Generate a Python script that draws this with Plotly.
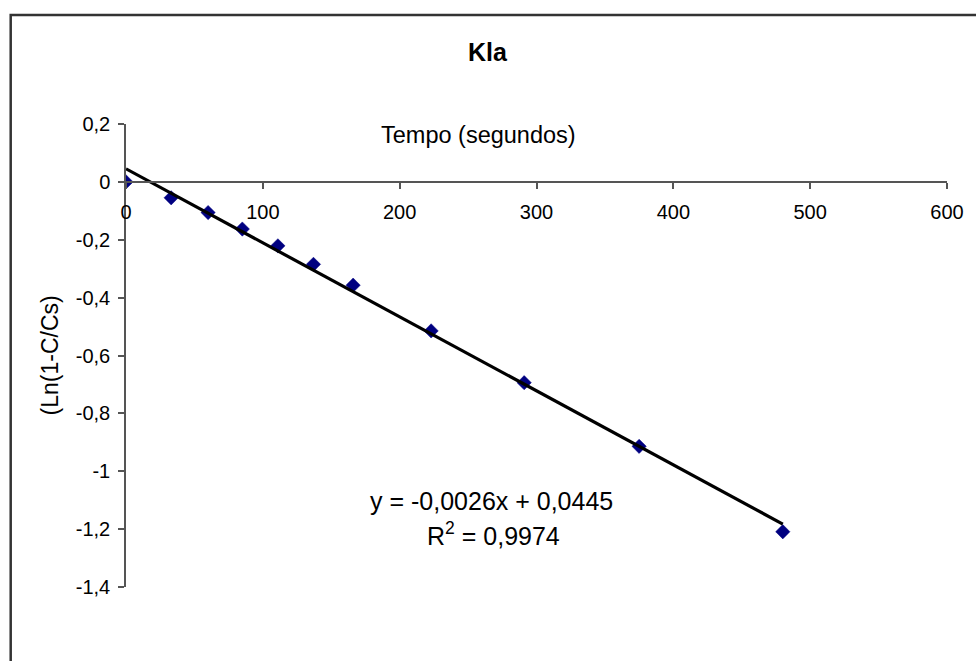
import numpy as np
import plotly.graph_objects as go

# Data
tempo = [0, 33, 60, 85, 111, 137, 166, 223, 291, 375, 480]
ln_vals = [0.0, -0.055, -0.106, -0.163, -0.221, -0.285, -0.357, -0.515, -0.694, -0.914, -1.209]
x_ticks = [0, 100, 200, 300, 400, 500, 600]
x_tick_labels = ["0", "100", "200", "300", "400", "500", "600"]
y_ticks = [0.2, 0, -0.2, -0.4, -0.6, -0.8, -1.0, -1.2, -1.4]
y_tick_labels = ["0,2", "0", "-0,2", "-0,4", "-0,6", "-0,8", "-1", "-1,2", "-1,4"]
title_text = "<b>Kla</b>"
x_title = "Tempo (segundos)"
y_title = "(Ln(1-C/Cs)"
eq_text = "y = -0,0026x + 0,0445"
r2_text = "R<sup>2</sup> = 0,9974"

# Linear trendline fitted from the data
slope, intercept = np.polyfit(tempo, ln_vals, 1)
trend_x = [min(tempo), max(tempo)]
trend_y = [slope * v + intercept for v in trend_x]

W, H = 976, 661
ml, mr, mt, mb = 126, 24, 124, 74
pw, ph = W - ml - mr, H - mt - mb

def px2x(px):
    return (px - ml) / pw

def py2y(py):
    return 1 - (py - mt) / ph

FONT = "Liberation Sans, Arial, sans-serif"

fig = go.Figure()
fig.add_trace(go.Scatter(
    x=tempo, y=ln_vals, mode="markers",
    marker=dict(symbol="diamond", size=11, color="#000080",
                line=dict(width=0.5, color="#000080")),
    showlegend=False, hoverinfo="x+y"))
fig.add_trace(go.Scatter(
    x=trend_x, y=trend_y, mode="lines",
    line=dict(color="black", width=3.2),
    showlegend=False, hoverinfo="skip"))

fig.update_layout(
    width=W, height=H,
    margin=dict(l=ml, r=mr, t=mt, b=mb, pad=0),
    paper_bgcolor="white", plot_bgcolor="white",
    font=dict(family=FONT, color="black", size=20),
    xaxis=dict(
        range=[0, 600], tickvals=x_ticks, ticktext=x_tick_labels,
        showgrid=False, zeroline=False, showline=True, linecolor="#555",
        linewidth=1.5, ticks="outside", ticklen=6, tickcolor="#555",
        tickwidth=1.5, anchor="free", position=1.4 / 1.6, side="bottom",
        tickfont=dict(size=20), ticklabelstandoff=6),
    yaxis=dict(
        range=[-1.4, 0.2], tickvals=y_ticks, ticktext=y_tick_labels,
        showgrid=False, zeroline=False, showline=True, linecolor="#555",
        linewidth=1.5, ticks="outside", ticklen=6, tickcolor="#555",
        tickwidth=1.5, tickfont=dict(size=20), ticklabelstandoff=4),
    shapes=[dict(type="rect", xref="paper", yref="paper",
                 x0=px2x(10), y0=py2y(H + 20), x1=px2x(W + 20), y1=py2y(15),
                 line=dict(color="#333", width=2.5), fillcolor="rgba(0,0,0,0)",
                 layer="above")],
    annotations=[
        dict(text=title_text, x=px2x(490), y=py2y(52), xref="paper", yref="paper",
             showarrow=False, font=dict(size=25), xanchor="center", yanchor="middle"),
        dict(text=x_title, x=px2x(481), y=py2y(135), xref="paper", yref="paper",
             showarrow=False, font=dict(size=23.5), xanchor="center", yanchor="middle"),
        dict(text=y_title, x=px2x(50), y=py2y(355), xref="paper", yref="paper",
             showarrow=False, font=dict(size=23), textangle=-90,
             xanchor="center", yanchor="middle"),
        dict(text=eq_text, x=px2x(494), y=py2y(501), xref="paper", yref="paper",
             showarrow=False, font=dict(size=25), xanchor="center", yanchor="middle"),
        dict(text=r2_text, x=px2x(496), y=py2y(534), xref="paper", yref="paper",
             showarrow=False, font=dict(size=25), xanchor="center", yanchor="middle"),
    ],
)

fig.write_html("out.html")
